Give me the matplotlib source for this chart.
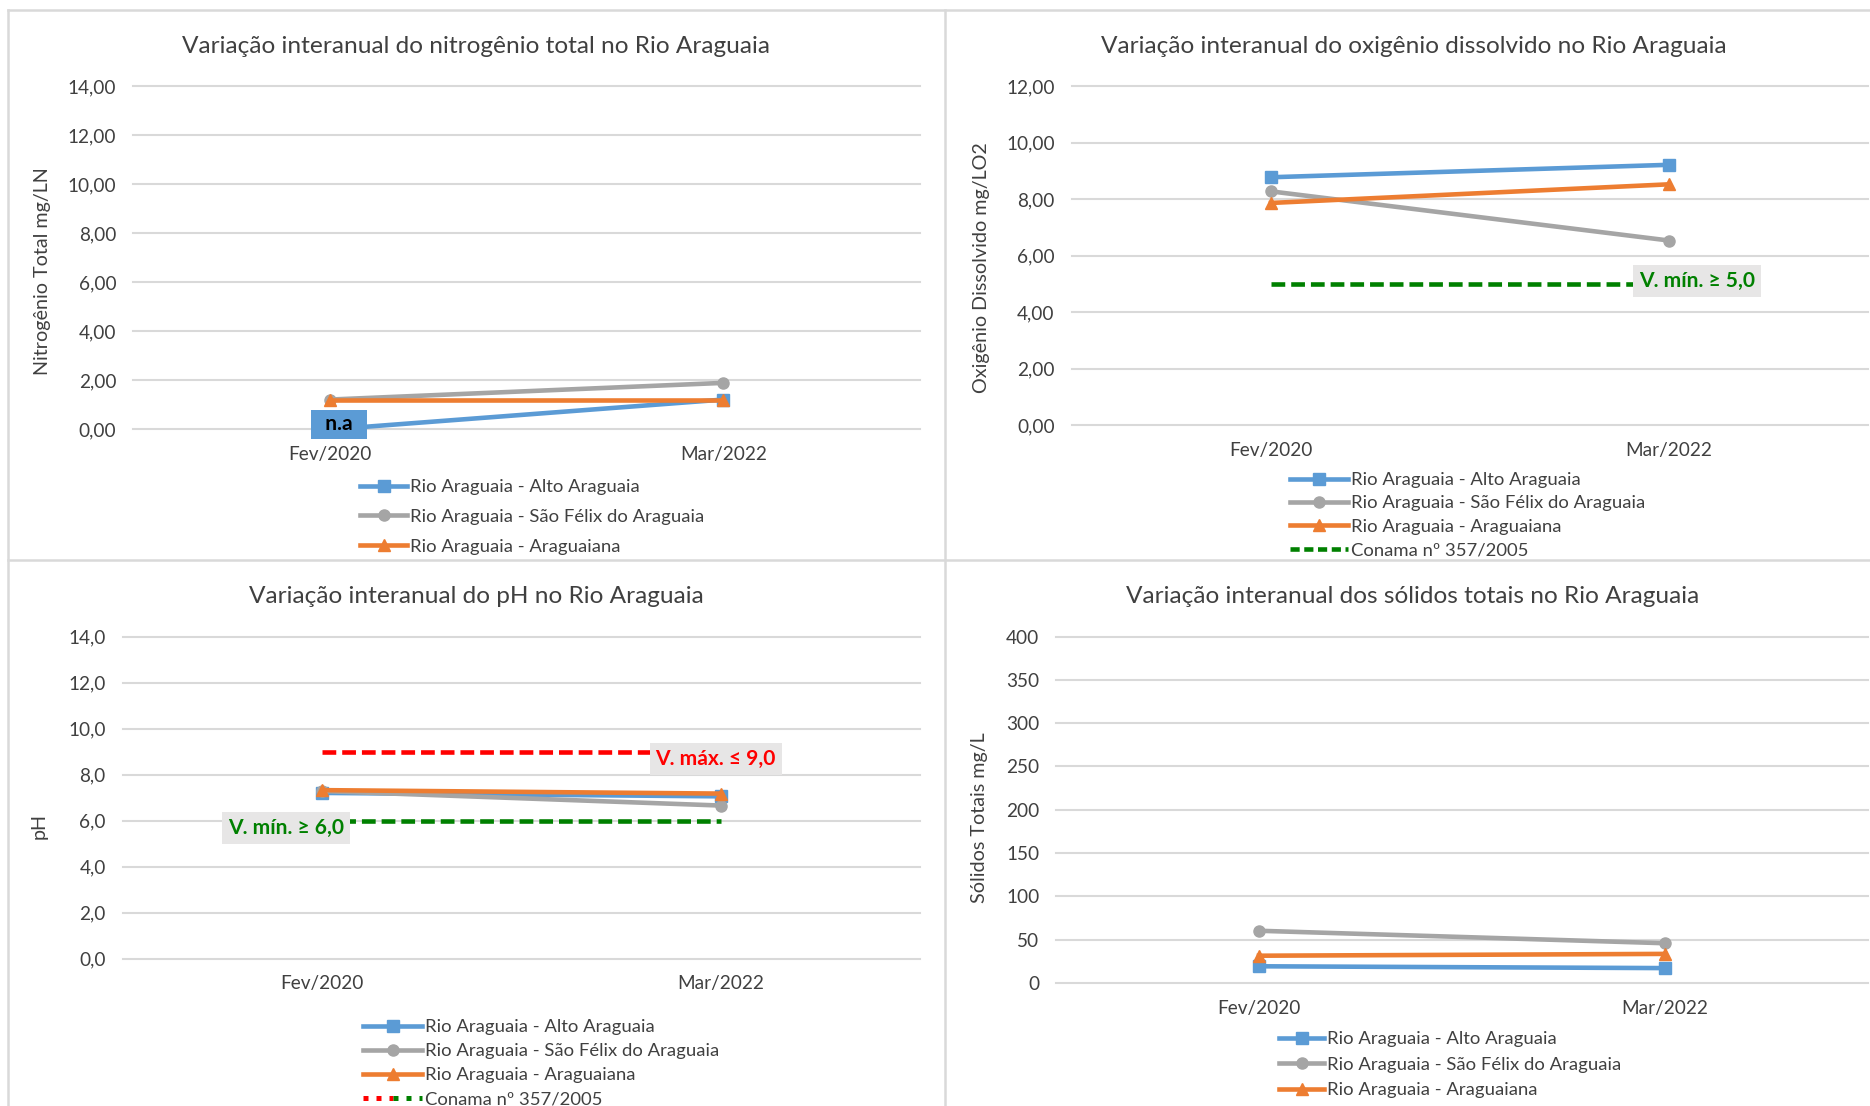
import matplotlib
matplotlib.use("Agg")
import matplotlib.pyplot as plt
from matplotlib.lines import Line2D
from matplotlib.legend_handler import HandlerTuple

# ---------------- data ----------------
categories = ["Fev/2020", "Mar/2022"]
series_names = ["Rio Araguaia - Alto Araguaia",
                "Rio Araguaia - São Félix do Araguaia",
                "Rio Araguaia - Araguaiana"]
conama_label = "Conama nº 357/2005"

nt_alto = [0.0, 1.22]
nt_sao = [1.22, 1.90]
nt_arag = [1.22, 1.22]

od_alto = [8.77, 9.21]
od_sao = [8.27, 6.53]
od_arag = [7.86, 8.52]
od_conama_min = [5.0, 5.0]

ph_alto = [7.20, 7.05]
ph_sao = [7.28, 6.65]
ph_arag = [7.32, 7.17]
ph_conama_max = [9.0, 9.0]
ph_conama_min = [6.0, 6.0]

st_alto = [19.3, 17.2]
st_sao = [60.3, 45.9]
st_arag = [31.5, 33.6]

titles = ["Variação interanual do nitrogênio total no Rio Araguaia",
          "Variação interanual do oxigênio dissolvido no Rio Araguaia",
          "Variação interanual do pH no Rio Araguaia",
          "Variação interanual dos sólidos totais no Rio Araguaia"]
ylabels = ["Nitrogênio Total mg/LN", "Oxigênio Dissolvido mg/LO2", "pH", "Sólidos Totais mg/L"]

# ---------------- style ----------------
W, H = 1870, 1106
FONT = ["Lato", "DejaVu Sans"]
plt.rcParams["font.family"] = FONT
TXT = "#404040"
GRID = "#d9d9d9"
C_BLUE, C_GRAY, C_ORANGE = "#5b9bd5", "#a5a5a5", "#ed7d31"
C_GREEN, C_RED = "#008000", "#ff0000"
LW = 3.3
MS = 8
PX = 0.72  # px -> pt at dpi 100

fig = plt.figure(figsize=(W / 100, H / 100), dpi=100)
fig.patch.set_facecolor("white")


def px_axes(left, top, right, bottom):
    return fig.add_axes([left / W, 1 - bottom / H, (right - left) / W, (bottom - top) / H])


def fig_line(x0, y0, x1, y1):
    fig.add_artist(Line2D([x0 / W, x1 / W], [1 - y0 / H, 1 - y1 / H],
                          transform=fig.transFigure, color=GRID, lw=1.8))


# panel borders
fig_line(8, 10, W, 10)
fig_line(8, 10, 8, H)
fig_line(945, 10, 945, H)
fig_line(8, 560, W, 560)


def setup(ax, ymax, step, fmt, ypad):
    ax.set_xlim(-0.5, 1.5)
    ax.set_ylim(0, ymax)
    ticks = [i * step for i in range(int(round(ymax / step)) + 1)]
    ax.set_yticks(ticks)
    ax.set_yticklabels([fmt(t) for t in ticks])
    ax.set_xticks(range(len(categories)))
    ax.set_xticklabels(categories)
    for s in ax.spines.values():
        s.set_visible(False)
    ax.tick_params(axis="both", length=0, colors=TXT, labelsize=19 * PX)
    ax.tick_params(axis="y", pad=ypad)
    ax.tick_params(axis="x", pad=12)
    ax.grid(axis="y", color=GRID, lw=1.5)
    ax.set_axisbelow(True)
    for gl in ax.yaxis.get_gridlines():
        gl.set_clip_on(False)


def series(ax, a, s, r):
    x = range(len(categories))
    l1, = ax.plot(x, a, color=C_BLUE, lw=LW, marker="s", ms=MS, clip_on=False, zorder=4)
    l2, = ax.plot(x, s, color=C_GRAY, lw=LW, marker="o", ms=MS, clip_on=False, zorder=4)
    l3, = ax.plot(x, r, color=C_ORANGE, lw=LW, marker="^", ms=MS + 1, clip_on=False, zorder=4)
    return [l1, l2, l3]


def legend(ax, handles, labels, x, y, hl_px, spacing, **kw):
    fs = 18.5
    leg = ax.legend(handles, labels, loc="upper left",
                    bbox_to_anchor=(x / W, 1 - (y - 7) / H), bbox_transform=fig.transFigure,
                    frameon=False, borderpad=0, borderaxespad=0, numpoints=1,
                    handlelength=hl_px / fs, handletextpad=3 / fs, labelspacing=spacing,
                    prop={"size": fs * PX, "family": FONT}, labelcolor=TXT, **kw)
    return leg


def title(x, y, t):
    fig.text(x / W, 1 - y / H, t, ha="center", va="center", fontsize=24.4 * PX, color=TXT)


def ylab(x, y, t):
    fig.text(x / W, 1 - y / H, t, ha="center", va="center", rotation=90,
             fontsize=19.8 * PX, color=TXT)


fmt2 = lambda v: f"{v:.2f}".replace(".", ",")
fmt1 = lambda v: f"{v:.1f}".replace(".", ",")
fmt0 = lambda v: f"{v:.0f}"

box_gray = dict(boxstyle="square,pad=0.28", fc="#e7e6e6", ec="none")
LBL = 21 * PX

# ---------- Panel 1: nitrogênio ----------
ax1 = px_axes(133, 86, 920, 429.5)
setup(ax1, 14, 2, fmt2, 12)
h = series(ax1, nt_alto, nt_sao, nt_arag)
ax1.annotate("  n.a  ", xy=(0, nt_alto[0]), xytext=(9.5, 5), textcoords="offset pixels",
             ha="center", va="center", fontsize=21 * PX, fontweight="bold", color="black",
             bbox=dict(boxstyle="square,pad=0.2", fc=C_BLUE, ec="none"), zorder=6)
legend(ax1, h, series_names, 360, 486, 47, 0.75)
title(476, 46.5, titles[0])
ylab(43, 271, ylabels[0])

# ---------- Panel 2: oxigênio ----------
ax2 = px_axes(1072, 86, 1868, 425)
setup(ax2, 12, 2, fmt2, 12.5)
h = series(ax2, od_alto, od_sao, od_arag)
ax2.plot(range(len(categories)), od_conama_min, color=C_GREEN, lw=LW,
         ls=(0, (3.0, 1.3)), zorder=3)
ax2.annotate("V. mín. ≥ 5,0", xy=(1, od_conama_min[1]), xytext=(28, 2.5),
             textcoords="offset pixels", ha="center", va="center", fontsize=LBL,
             fontweight="bold", color=C_GREEN, bbox=box_gray, zorder=6)
hc = Line2D([], [], color=C_GREEN, lw=LW, ls=(0, (2.0, 1.0)))
legend(ax2, h + [hc], series_names + [conama_label], 1290, 479, 58, 0.40)
title(1414, 46.5, titles[1])
ylab(981, 268, ylabels[1])

# ---------- Panel 3: pH ----------
ax3 = px_axes(123, 636.5, 920, 958.5)
setup(ax3, 14, 2, fmt1, 12.5)
h = series(ax3, ph_alto, ph_sao, ph_arag)
ax3.plot(range(len(categories)), ph_conama_max, color=C_RED, lw=LW, ls=(0, (3.0, 1.3)), zorder=3)
ax3.plot(range(len(categories)), ph_conama_min, color=C_GREEN, lw=LW, ls=(0, (3.0, 1.3)), zorder=3)
ax3.annotate("V. máx. ≤ 9,0", xy=(1, ph_conama_max[1]), xytext=(-5, -7.5),
             textcoords="offset pixels", ha="center", va="center", fontsize=LBL,
             fontweight="bold", color=C_RED, bbox=box_gray, zorder=6)
ax3.annotate("V. mín. ≥ 6,0", xy=(0, ph_conama_min[0]), xytext=(-36.5, -7.5),
             textcoords="offset pixels", ha="center", va="center", fontsize=LBL,
             fontweight="bold", color=C_GREEN, bbox=box_gray, zorder=6)
hr = Line2D([], [], color=C_RED, lw=3.6, ls=(0, (1.0, 1.6)))
hg = Line2D([], [], color=C_GREEN, lw=3.6, ls=(0, (1.0, 1.6)))
legend(ax3, h + [(hr, hg)], series_names + [conama_label], 363, 1026, 59, 0.44,
       handler_map={tuple: HandlerTuple(ndivide=None, pad=0)})
title(476, 596.5, titles[2])
ylab(39, 826, ylabels[2])

# ---------- Panel 4: sólidos ----------
ax4 = px_axes(1056, 636.5, 1868, 983)
setup(ax4, 400, 50, fmt0, 12)
h = series(ax4, st_alto, st_sao, st_arag)
legend(ax4, h, series_names, 1279, 1038, 45, 0.52)
title(1413, 596.5, titles[3])
ylab(980, 818, ylabels[3])

fig.savefig("out.png", dpi=100, facecolor="white")
